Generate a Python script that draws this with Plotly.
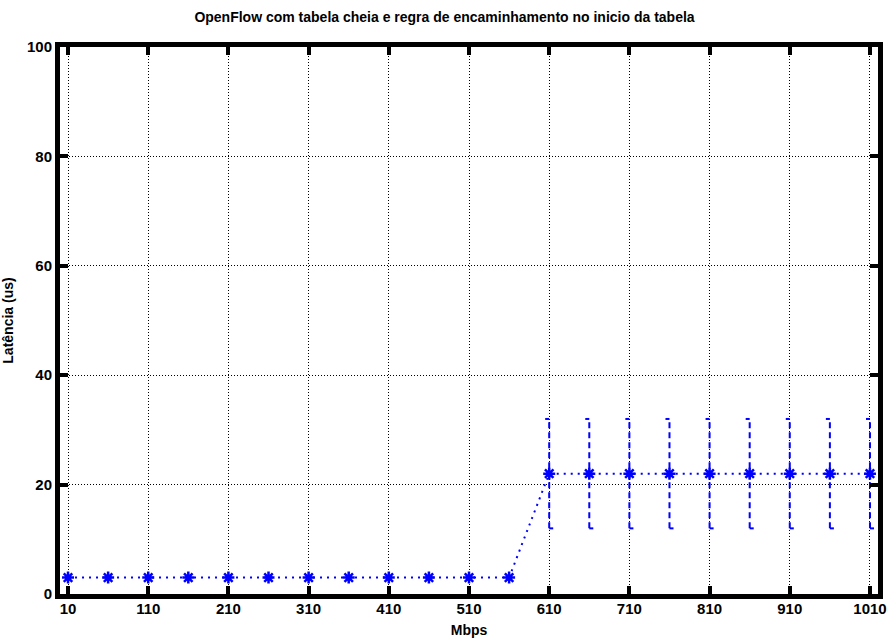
import plotly.graph_objects as go

mbps = [10, 60, 110, 160, 210, 260, 310, 360, 410, 460, 510, 560,
        610, 660, 710, 760, 810, 860, 910, 960, 1010]
latency = [3, 3, 3, 3, 3, 3, 3, 3, 3, 3, 3, 3,
           22, 22, 22, 22, 22, 22, 22, 22, 22]
err_low = [0, 0, 0, 0, 0, 0, 0, 0, 0, 0, 0, 0,
           12, 12, 12, 12, 12, 12, 12, 12, 12]
err_high = [0, 0, 0, 0, 0, 0, 0, 0, 0, 0, 0, 0,
            32, 32, 32, 32, 32, 32, 32, 32, 32]
x_ticks = [10, 110, 210, 310, 410, 510, 610, 710, 810, 910, 1010]
y_ticks = [0, 20, 40, 60, 80, 100]

BLUE = "#0000ff"
FONT = "Liberation Sans, Arial, sans-serif"

# dashed error bars with caps built from the data
ex, ey = [], []
cx, cy = [], []
cap = 5
for x, lo, hi in zip(mbps, err_low, err_high):
    if hi > lo:
        ex += [x, x, None]
        ey += [lo, hi, None]
        cx += [x, x + cap, None, x - cap, x, None]
        cy += [lo, lo, None, hi, hi, None]

fig = go.Figure()
fig.add_trace(go.Scatter(x=ex, y=ey, mode="lines",
                         line=dict(color=BLUE, width=2, dash="6px,4px"),
                         hoverinfo="skip", showlegend=False))
fig.add_trace(go.Scatter(x=cx, y=cy, mode="lines",
                         line=dict(color=BLUE, width=2),
                         hoverinfo="skip", showlegend=False))
fig.add_trace(go.Scatter(x=mbps, y=latency, mode="lines+markers",
                         line=dict(color=BLUE, width=2, dash="2px,5px"),
                         marker=dict(symbol="asterisk-open", size=10,
                                     line=dict(color=BLUE, width=2.5)),
                         showlegend=False))

axis_common = dict(showline=True, linecolor="black", linewidth=5, mirror="allticks",
                   ticks="inside", ticklen=8, tickwidth=4, tickcolor="black",
                   showgrid=True, gridcolor="black", gridwidth=1, griddash="1px,2px",
                   zeroline=False, automargin=False)

fig.update_layout(
    width=889, height=638,
    margin=dict(l=60, r=11, t=47, b=44),
    paper_bgcolor="white", plot_bgcolor="white",
    font=dict(family=FONT, color="black"),
    title=dict(text="<b>OpenFlow com tabela cheia e regra de encaminhamento no inicio da tabela</b>",
               x=0.5, xanchor="center", y=0.973, yanchor="middle",
               font=dict(family=FONT, size=14, color="black")),
    xaxis=dict(range=[0, 1020], tickvals=x_ticks,
               ticktext=["<b>%d</b>" % v for v in x_ticks],
               tickfont=dict(family=FONT, size=15, color="black"),
               ticklabelstandoff=-3,
               title=dict(text="<b>Mbps</b>", standoff=17,
                          font=dict(family=FONT, size=14, color="black")),
               **axis_common),
    yaxis=dict(range=[0, 100], tickvals=y_ticks,
               ticktext=["<b>%d</b>" % v for v in y_ticks],
               tickfont=dict(family=FONT, size=15, color="black"),
               title=dict(text="<b>Latência (us)</b>", standoff=22,
                          font=dict(family=FONT, size=14, color="black")),
               **axis_common),
)

fig.write_html("out.html")
